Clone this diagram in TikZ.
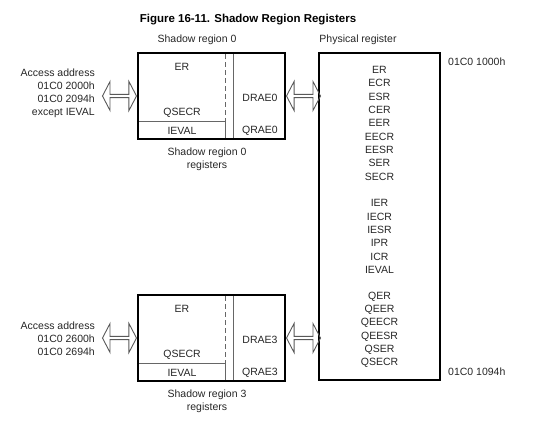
\documentclass[tikz,border=0pt]{standalone}
\usepackage{fontspec}
\setmainfont{Liberation Sans}
\usetikzlibrary{shapes.arrows,positioning}

\def\regsep{13.33}

\begin{document}
\begin{tikzpicture}[x=1pt,y=-1pt,font=\fontsize{10.5}{13}\selectfont,text=black!85]
    \tikzstyle{shadowbox}=[draw=black, line width=2pt, minimum width=147pt, minimum height=86pt, inner sep=0pt]
    \tikzstyle{physbox}=[draw=black, line width=2.5pt, minimum width=121pt, minimum height=327pt, inner sep=0pt]
    \tikzstyle{divider}=[draw=black!60, line width=0.9pt]
    \tikzstyle{access}=[double arrow, draw=black!65, line width=0.9pt, minimum height=34pt, minimum width=29pt, double arrow head extend=3.5pt, double arrow tip angle=125, inner sep=0pt]
    \tikzstyle{annot}=[align=center]
    \tikzstyle{addr}=[align=right, anchor=east, inner sep=0pt]

    \useasboundingbox (0,0) rectangle (554,429);

    % Title and headings
    \node[text=black, font=\bfseries\fontsize{11.5}{14}\selectfont] (title) at (248,20) {Figure 16-11. Shadow Region Registers};
    \node (hS0) at (197,40) {Shadow region 0};
    \node (hPR) at (358,40) {Physical register};

    % Physical register block
    \node[physbox] (PR) at (379.5,216.5) {};
    \node[anchor=west, inner sep=0pt] (PR-start) at (448,62) {01C0 1000h};
    \node[anchor=west, inner sep=0pt] (PR-end) at (448,372) {01C0 1094h};

    \foreach \name [count=\y] in {ER,ECR,ESR,CER,EER,EECR,EESR,SER,SECR}
        \node (P-\name) at (379.5, 56.67+\y*\regsep) {\name};
    \foreach \name [count=\y from 11] in {IER,IECR,IESR,IPR,ICR,IEVAL}
        \node (P-\name) at (379.5, 56.67+\y*\regsep) {\name};
    \foreach \name [count=\y from 18] in {QER,QEER,QEECR,QEESR,QSER,QSECR}
        \node (P-\name) at (379.5, 56.67+\y*\regsep) {\name};

    % Shadow region blocks (region 0 and region 3)
    \foreach \r / \dy in {0/0, 3/242} {
        \node[shadowbox] (S\r) at (211.5, 96+\dy) {};
        \draw[divider, dash pattern=on 5pt off 3pt] (225, 54+\dy) -- (225, 121+\dy);
        \draw[divider] (225, 121+\dy) -- (225, 138+\dy);
        \draw[divider] (233, 54+\dy) -- (233, 138+\dy);
        \draw[divider] (139, 121+\dy) -- (225, 121+\dy);

        \node (S\r-ER) at (182, 67+\dy) {ER};
        \node (S\r-QSECR) at (182, 113+\dy) {QSECR};
        \node (S\r-IEVAL) at (182, 130.5+\dy) {IEVAL};
        \node (S\r-DRAE) at (260, 98+\dy) {DRAE\r};
        \node (S\r-QRAE) at (260, 130.5+\dy) {QRAE\r};

        \node[annot] (C\r) at (207, 159+\dy) {Shadow region \r\\registers};

        % hollow arrows to the access window and to the physical registers
        \node[access, anchor=east] (AL\r) at (S\r.west) {};
        \node[access, anchor=west] (AR\r) at (S\r.east) {};
    }

    % Access addresses
    \node[addr] (A0) at (95,93.5) {Access address\\01C0 2000h\\01C0 2094h\\except IEVAL};
    \node[addr] (A3) at (95,338.5) {Access address\\01C0 2600h\\01C0 2694h};
\end{tikzpicture}
\end{document}
